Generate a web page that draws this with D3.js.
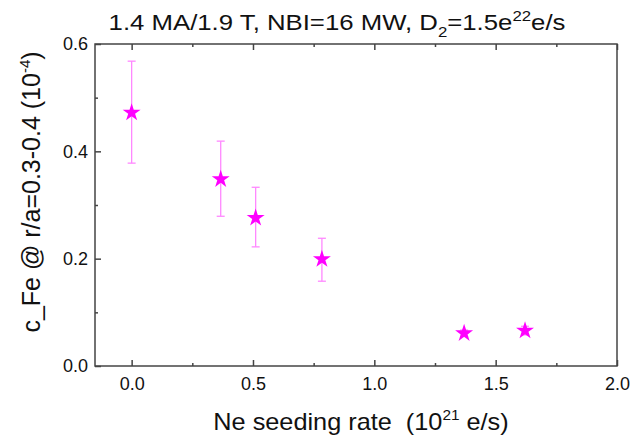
<!DOCTYPE html>
<html><head><meta charset="utf-8">
<script src="https://cdn.jsdelivr.net/npm/d3@7"></script>
<style>body{margin:0;background:#fff}text{font-family:Arial,"Liberation Sans",sans-serif;fill:#111}</style>
</head><body><svg id="c" width="631" height="442"></svg>
<script>
const neRate = [0.0, 0.367, 0.511, 0.784, 1.37, 1.621];
const cFe = [0.472, 0.348, 0.276, 0.199, 0.061, 0.066];
const errLow = [0.378, 0.279, 0.222, 0.158, 0.055, 0.058];
const errHigh = [0.568, 0.419, 0.333, 0.238, 0.067, 0.074];
const xTicks = [0, 0.5, 1.0, 1.5, 2.0];
const yTicks = [0, 0.2, 0.4, 0.6];

const svg = d3.select("#c");
const L = 95, R = 617, T = 44, B = 366;
const x = d3.scaleLinear().domain([-0.151, 2.0]).range([L, R]);
const y = d3.scaleLinear().domain([0, 0.6]).range([B, T]);
const axCol = "#444";

svg.append("rect").attr("x", L).attr("y", T).attr("width", R - L).attr("height", B - T)
  .attr("fill", "none").attr("stroke", axCol).attr("stroke-width", 1.5);

const fmt = d3.format(".1f");
const bx = svg.append("g").attr("transform", `translate(0,${B})`)
  .call(d3.axisBottom(x).tickValues(xTicks).tickFormat(fmt).tickSizeInner(-6).tickSizeOuter(0).tickPadding(11));
const bxm = svg.append("g").attr("transform", `translate(0,${B})`)
  .call(d3.axisBottom(x).tickValues([0.25, 0.75, 1.25, 1.75]).tickFormat("").tickSizeInner(-3).tickSizeOuter(0));
const tx = svg.append("g").attr("transform", `translate(0,${T})`)
  .call(d3.axisTop(x).tickValues(xTicks).tickFormat("").tickSizeInner(-6).tickSizeOuter(0));
const txm = svg.append("g").attr("transform", `translate(0,${T})`)
  .call(d3.axisTop(x).tickValues([0.25, 0.75, 1.25, 1.75]).tickFormat("").tickSizeInner(-3).tickSizeOuter(0));
const ly = svg.append("g").attr("transform", `translate(${L},0)`)
  .call(d3.axisLeft(y).tickValues(yTicks).tickFormat(fmt).tickSizeInner(-6).tickSizeOuter(0).tickPadding(7));
const lym = svg.append("g").attr("transform", `translate(${L},0)`)
  .call(d3.axisLeft(y).tickValues([0.1, 0.3, 0.5]).tickFormat("").tickSizeInner(-3).tickSizeOuter(0));
[bx, bxm, tx, txm, ly, lym].forEach(g => {
  g.select(".domain").remove();
  g.selectAll("line").attr("stroke", axCol).attr("stroke-width", 1.5);
  g.selectAll("text").style("font-size", "18px").attr("fill", "#111");
});

const eb = svg.append("g").attr("stroke", "#ff88ff").attr("stroke-width", 1.3);
neRate.forEach((v, i) => {
  eb.append("line").attr("x1", x(v)).attr("x2", x(v)).attr("y1", y(errLow[i])).attr("y2", y(errHigh[i]));
  [errLow[i], errHigh[i]].forEach(e => eb.append("line")
    .attr("x1", x(v) - 4).attr("x2", x(v) + 4).attr("y1", y(e)).attr("y2", y(e)));
});

const star = d3.symbol().type(d3.symbolStar).size(100);
svg.append("g").selectAll("path").data(neRate).join("path")
  .attr("d", star)
  .attr("transform", (d, i) => `translate(${x(d)},${y(cFe[i])})`)
  .attr("fill", "#ff00ff");

// title
const t = svg.append("text").attr("transform", "translate(337,30) scale(1.12,1)").attr("text-anchor", "middle").style("font-size", "23px");
t.append("tspan").text("1.4 MA/1.9 T, NBI=16 MW, D");
t.append("tspan").text("2").attr("dy", 7).style("font-size", "15px");
t.append("tspan").text("=1.5e").attr("dy", -7);
t.append("tspan").text("22").attr("dy", -9).style("font-size", "15px");
t.append("tspan").text("e/s").attr("dy", 9);

// x title
const xt = svg.append("text").attr("transform", "translate(361,430) scale(1.1,1)").attr("text-anchor", "middle").style("font-size", "23px");
xt.append("tspan").text("Ne seeding rate\u00a0\u00a0(10");
xt.append("tspan").text("21").attr("dy", -10).style("font-size", "14px");
xt.append("tspan").text(" e/s)").attr("dy", 10);

// y title
const yt = svg.append("text").attr("transform", "translate(40,192) rotate(-90)").attr("text-anchor", "middle").style("font-size", "25px");
yt.append("tspan").text("c_Fe @ r/a=0.3-0.4 (10");
yt.append("tspan").text("-4").attr("dy", -10).style("font-size", "15px");
yt.append("tspan").text(")").attr("dy", 10);
</script></body></html>
